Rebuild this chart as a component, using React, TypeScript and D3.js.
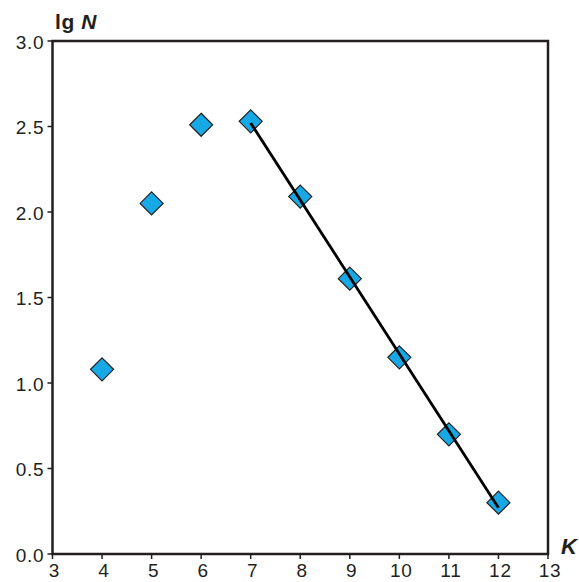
import React from 'react';
import * as d3 from 'd3';

// K values and lg N readings
const kValues = [4, 5, 6, 7, 8, 9, 10, 11, 12];
const lgN = [1.08, 2.05, 2.51, 2.53, 2.09, 1.61, 1.15, 0.7, 0.3];
// fitted line endpoints
const fitK = [7, 12];
const fitLgN = [2.52, 0.27];

const xTicks = [3, 4, 5, 6, 7, 8, 9, 10, 11, 12, 13];
const yTicks = [0, 0.5, 1, 1.5, 2, 2.5, 3];

const App = () => {
  const left = 52.5, right = 548, top = 41, bottom = 554;
  const x = d3.scaleLinear().domain([3, 13]).range([left, right]);
  const y = d3.scaleLinear().domain([0, 3]).range([bottom, top]);
  const font = 'Liberation Sans, Arial, Helvetica, sans-serif';

  const line = d3.line<number>()
    .x((_, i) => x(fitK[i]))
    .y(d => y(d));

  const r = 11.5;
  const diamond = (cx: number, cy: number) =>
    `M${cx},${cy - r}L${cx + r},${cy}L${cx},${cy + r}L${cx - r},${cy}Z`;

  return (
    <svg width={579} height={582} style={{ position: 'absolute', left: 0, top: 0 }}>
      <rect width={579} height={582} fill="white" />
      {/* frame */}
      <rect x={left} y={top} width={right - left} height={bottom - top}
        fill="none" stroke="#231f20" strokeWidth={2.5} />

      {/* y axis ticks */}
      {yTicks.map(t => (
        <g key={'y' + t}>
          <line x1={left - 5} x2={left} y1={y(t)} y2={y(t)} stroke="#231f20" strokeWidth={1.5} />
          <text x={left - 8} y={y(t)} dy="0.4em" textAnchor="end" letterSpacing={0.8}
            fontFamily={font} fontSize={19} fill="#231f20">{t.toFixed(1)}</text>
        </g>
      ))}

      {/* x axis ticks */}
      {xTicks.map(t => (
        <g key={'x' + t}>
          <line x1={x(t)} x2={x(t)} y1={bottom} y2={bottom + 5} stroke="#231f20" strokeWidth={1.5} />
          <text x={x(t) + 2} y={bottom + 23} textAnchor="middle" letterSpacing={0.8}
            fontFamily={font} fontSize={19} fill="#231f20">{t}</text>
        </g>
      ))}

      {/* axis titles */}
      <text x={55} y={29} fontFamily={font} fontSize={21} fontWeight="bold" fill="#231f20"
        letterSpacing={0.6}>
        lg <tspan fontStyle="italic">N</tspan>
      </text>
      <text x={561} y={554} fontFamily={font} fontSize={22} fontWeight="bold"
        fontStyle="italic" fill="#231f20">K</text>

      {/* points */}
      {kValues.map((k, i) => (
        <path key={k} d={diamond(x(k), y(lgN[i]))} fill="#17a9e6"
          stroke="#231f20" strokeWidth={1.2} />
      ))}

      {/* fit line */}
      <path d={line(fitLgN) || ''} fill="none" stroke="#000" strokeWidth={2.8} />
    </svg>
  );
};

export default App;
